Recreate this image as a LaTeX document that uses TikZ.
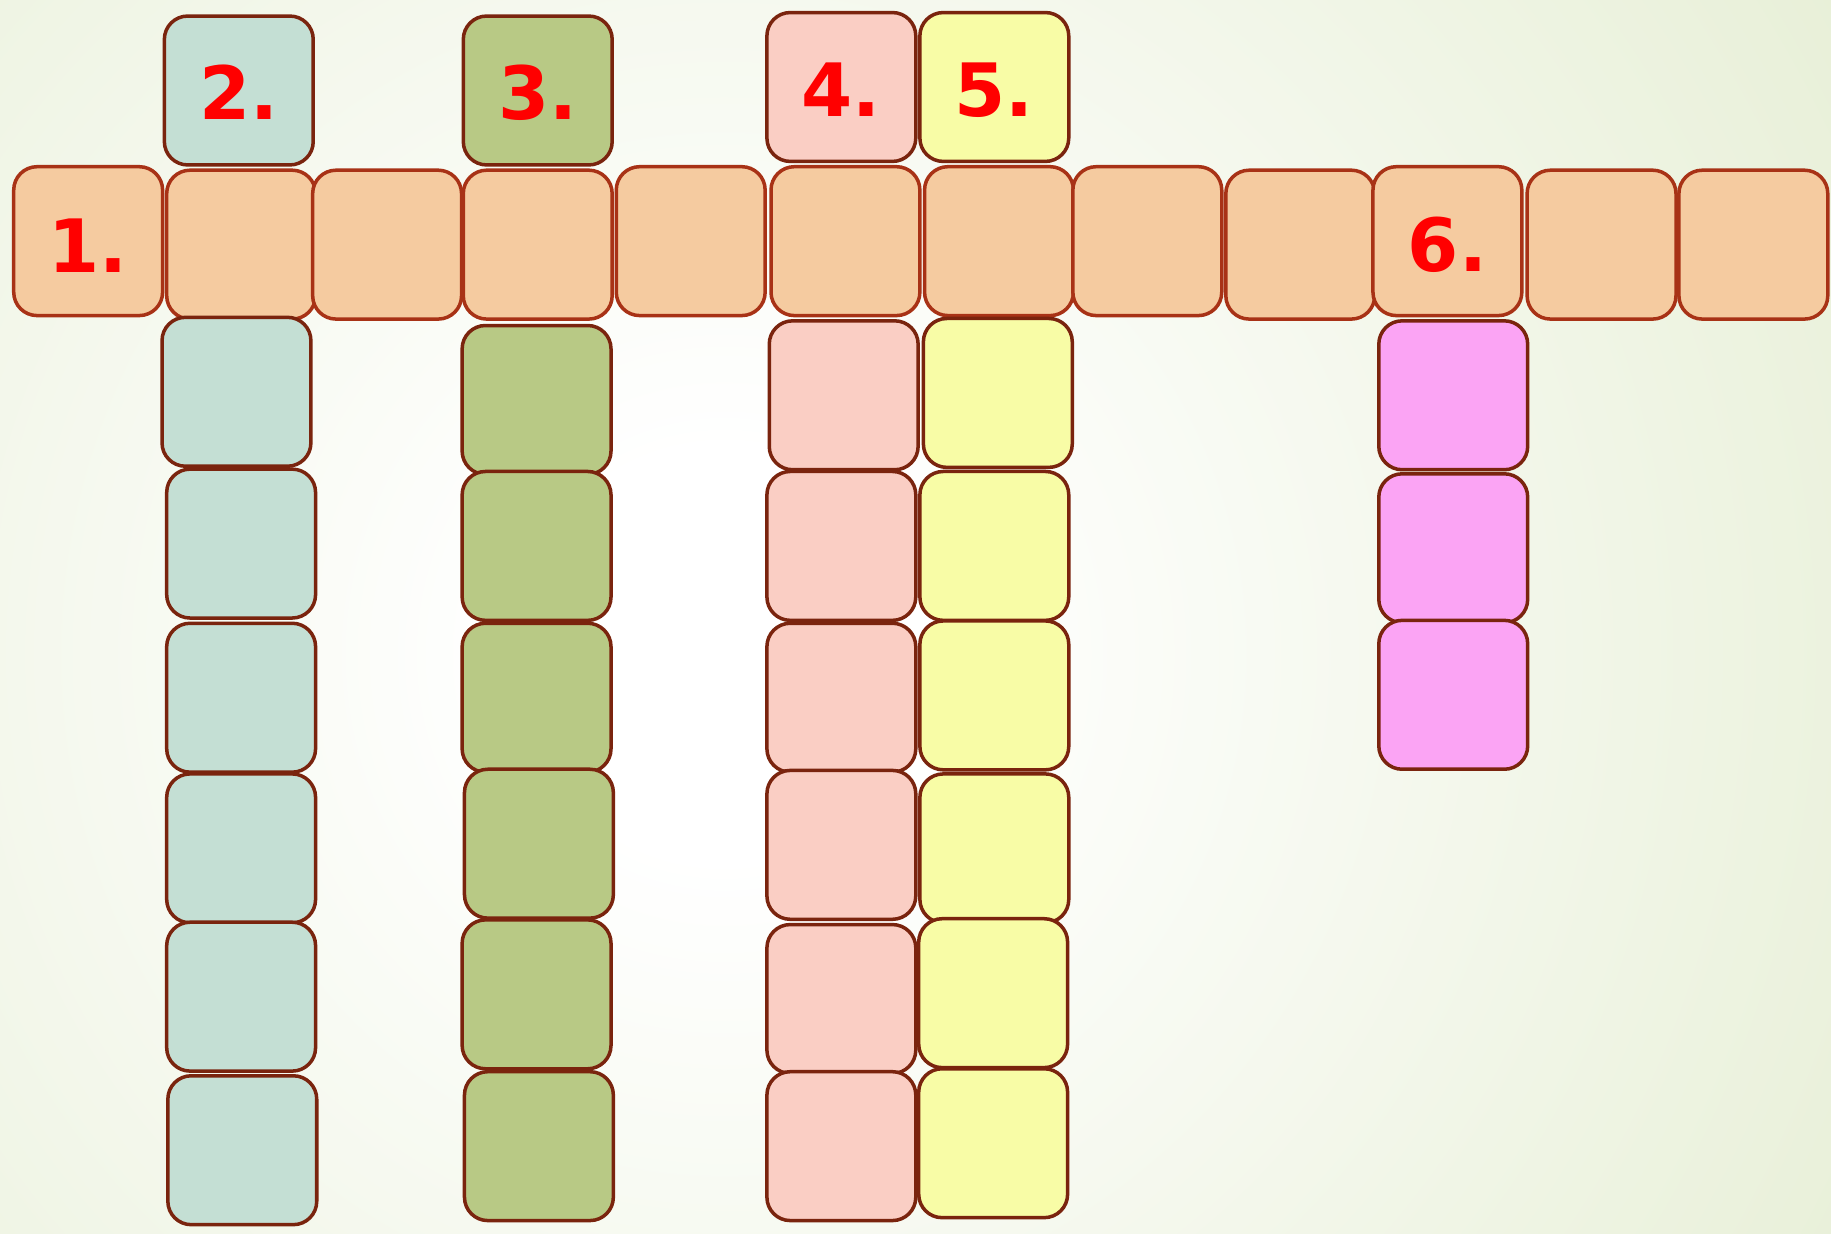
\documentclass[tikz,border=0pt]{standalone}
\usepackage{fontspec}
\setmainfont{DejaVu Sans}
\definecolor{bggreen}{RGB}{222,233,199}
\definecolor{orfill}{RGB}{245,203,160}
\definecolor{ordraw}{RGB}{168,50,22}
\definecolor{coldraw}{RGB}{122,36,14}
\definecolor{tealfill}{RGB}{196,223,212}
\definecolor{greenfill}{RGB}{184,201,133}
\definecolor{pinkfill}{RGB}{250,206,196}
\definecolor{yelfill}{RGB}{248,252,166}
\definecolor{magfill}{RGB}{251,164,244}
\pgfdeclareradialshading{bgshade}{\pgfpoint{0bp}{0bp}}{color(0bp)=(white); color(2.5bp)=(white); color(22bp)=(bggreen); color(50bp)=(bggreen)}
\tikzset{
  cell/.style={draw, line width=3pt, rounded corners=20pt, minimum width=127.5pt, minimum height=127.5pt, inner sep=0pt, outer sep=0pt},
  rowcell/.style={cell, fill=orfill, draw=ordraw},
  tealcell/.style={cell, fill=tealfill, draw=coldraw},
  greencell/.style={cell, fill=greenfill, draw=coldraw},
  pinkcell/.style={cell, fill=pinkfill, draw=coldraw},
  yelcell/.style={cell, fill=yelfill, draw=coldraw},
  magcell/.style={cell, fill=magfill, draw=coldraw},
  num/.style={text=red, font=\fontsize{63}{70}\selectfont\bfseries}
}
\begin{document}
\begin{tikzpicture}[x=1pt,y=-1pt]
\useasboundingbox (0,0) rectangle (1568,1056);
\begin{scope}
\clip (0,0) rectangle (1568,1056);
\fill[bggreen] (0,0) rectangle (1568,1056);
\shade[shading=bgshade] (-1100,-1160) rectangle (2340,2280);
\end{scope}
% row (word 1)
\node[rowcell] (r1) at (75.5,206.5) {};
\node[rowcell] (r2) at (206.5,209.5) {};
\node[rowcell] (r3) at (331.5,209.5) {};
\node[rowcell] (r4) at (460.5,209.5) {};
\node[rowcell] (r5) at (591.5,206.5) {};
\node[rowcell] (r6) at (724,206.5) {};
\node[rowcell] (r7) at (855.5,206.5) {};
\node[rowcell] (r8) at (982.5,206.5) {};
\node[rowcell] (r9) at (1113.5,209.5) {};
\node[rowcell] (r10) at (1239.5,206.5) {};
\node[rowcell] (r11) at (1371.5,209.5) {};
\node[rowcell] (r12) at (1501.5,209.5) {};
% column 2
\node[tealcell] (a0) at (204.5,77.5) {};
\node[tealcell] (a1) at (202.5,335.5) {};
\node[tealcell] (a2) at (206.5,465.5) {};
\node[tealcell] (a3) at (206.5,597.5) {};
\node[tealcell] (a4) at (206.5,726.5) {};
\node[tealcell] (a5) at (206.5,853.5) {};
\node[tealcell] (a6) at (207.5,985) {};
% column 3
\node[greencell] (b0) at (460.5,77.5) {};
\node[greencell] (b1) at (459.5,342.5) {};
\node[greencell] (b2) at (459.5,467.5) {};
\node[greencell] (b3) at (459.5,597.5) {};
\node[greencell] (b4) at (461.5,722.5) {};
\node[greencell] (b5) at (459.5,851.5) {};
\node[greencell] (b6) at (461.5,981.5) {};
% column 4
\node[pinkcell] (c0) at (720.5,74.5) {};
\node[pinkcell] (c1) at (722.5,338.5) {};
\node[pinkcell] (c2) at (720.5,467.5) {};
\node[pinkcell] (c3) at (720.5,597.5) {};
\node[pinkcell] (c4) at (720.5,723.5) {};
\node[pinkcell] (c5) at (720.5,855.5) {};
\node[pinkcell] (c6) at (720.5,981.5) {};
% column 5
\node[yelcell] (d0) at (851.5,74.5) {};
\node[yelcell] (d1) at (854.5,336.5) {};
\node[yelcell] (d2) at (851.5,467.5) {};
\node[yelcell] (d3) at (851.5,595.5) {};
\node[yelcell] (d4) at (851.5,726.5) {};
\node[yelcell] (d5) at (850.5,850.5) {};
\node[yelcell] (d6) at (850.5,979) {};
% column 6
\node[magcell] (e1) at (1244.5,338.5) {};
\node[magcell] (e2) at (1244.5,469.5) {};
\node[magcell] (e3) at (1244.5,595) {};
% numbers
\node[num] (n1) at ([yshift=-3.5pt]r1.center) {1.};
\node[num] (n2) at ([yshift=-1.5pt]a0.center) {2.};
\node[num] (n3) at ([yshift=-1.5pt]b0.center) {3.};
\node[num] (n4) at ([yshift=-2.5pt]c0.center) {4.};
\node[num] (n5) at ([yshift=-2.5pt]d0.center) {5.};
\node[num] (n6) at ([yshift=-3pt]r10.center) {6.};
\end{tikzpicture}
\end{document}
